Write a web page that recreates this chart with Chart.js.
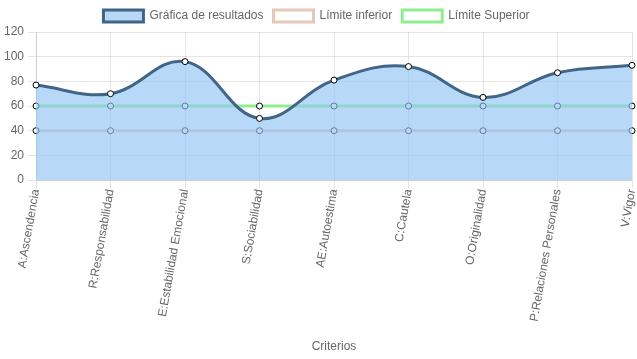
<!DOCTYPE html>
<html>
<head>
<meta charset="utf-8">
<script src="https://cdn.jsdelivr.net/npm/chart.js@4"></script>
<style>
    html, body { margin: 0; padding: 0; background: #fff; }
    #wrap { width: 637px; height: 359px; }
</style>
</head>
<body>
<div id="wrap"><canvas id="resultChart"></canvas></div>
<script>
// Resultados por criterio

const criterios = [
    'A:Ascendencia', 'R:Responsabilidad', 'E:Estabilidad Emocional', 'S:Sociabilidad',
    'AE:Autoestima', 'C:Cautela', 'O:Originalidad', 'P:Relaciones Personales', 'V:Vigor'
];
const resultados = [77, 70, 96, 50, 81, 92, 67, 87, 93];
const limiteInferior = [40, 40, 40, 40, 40, 40, 40, 40, 40];
const limiteSuperior = [60, 60, 60, 60, 60, 60, 60, 60, 60];
const yTicks = { min: 0, max: 120, step: 20 };

Chart.defaults.font.family = "'Liberation Sans', Arial, sans-serif";
Chart.defaults.font.size = 12;
Chart.defaults.color = '#666';

new Chart(document.getElementById('resultChart'), {
    type: 'line',
    data: {
        labels: criterios,
        datasets: [
            {
                label: 'Gráfica de resultados',
                data: resultados,
                borderColor: '#416587',
                backgroundColor: 'rgba(144, 196, 243, 0.65)',
                borderWidth: 3,
                fill: 'origin',
                tension: 0.4,
                pointRadius: 3,
                pointBackgroundColor: '#fff',
                pointBorderColor: '#000',
                pointBorderWidth: 1
            },
            {
                label: 'Límite inferior',
                data: limiteInferior,
                borderColor: '#e6c8bc',
                backgroundColor: '#fff',
                borderWidth: 3,
                fill: false,
                pointRadius: 3,
                pointBackgroundColor: '#fff',
                pointBorderColor: '#000',
                pointBorderWidth: 1
            },
            {
                label: 'Límite Superior',
                data: limiteSuperior,
                borderColor: '#90ee90',
                backgroundColor: '#fff',
                borderWidth: 3,
                fill: false,
                pointRadius: 3,
                pointBackgroundColor: '#fff',
                pointBorderColor: '#000',
                pointBorderWidth: 1
            }
        ]
    },
    options: {
        responsive: true,
        maintainAspectRatio: false,
        animation: false,
        layout: { padding: { right: 4, bottom: 5 } },
        plugins: {
            legend: {
                position: 'top',
                labels: { boxWidth: 40, boxHeight: 12, padding: 10 }
            },
            tooltip: { enabled: false }
        },
        scales: {
            x: {
                grid: { color: 'rgba(0,0,0,0.1)' },
                ticks: { minRotation: 80, maxRotation: 80, autoSkip: false, padding: 0 },
                title: { display: true, text: 'Criterios', padding: { top: 17, bottom: 0 } },
                afterFit: (scale) => { scale.paddingRight = 0; }
            },
            y: {
                min: yTicks.min,
                max: yTicks.max,
                grid: { color: 'rgba(0,0,0,0.1)' },
                ticks: { stepSize: yTicks.step, padding: 4 }
            }
        }
    }
});
</script>
</body>
</html>
